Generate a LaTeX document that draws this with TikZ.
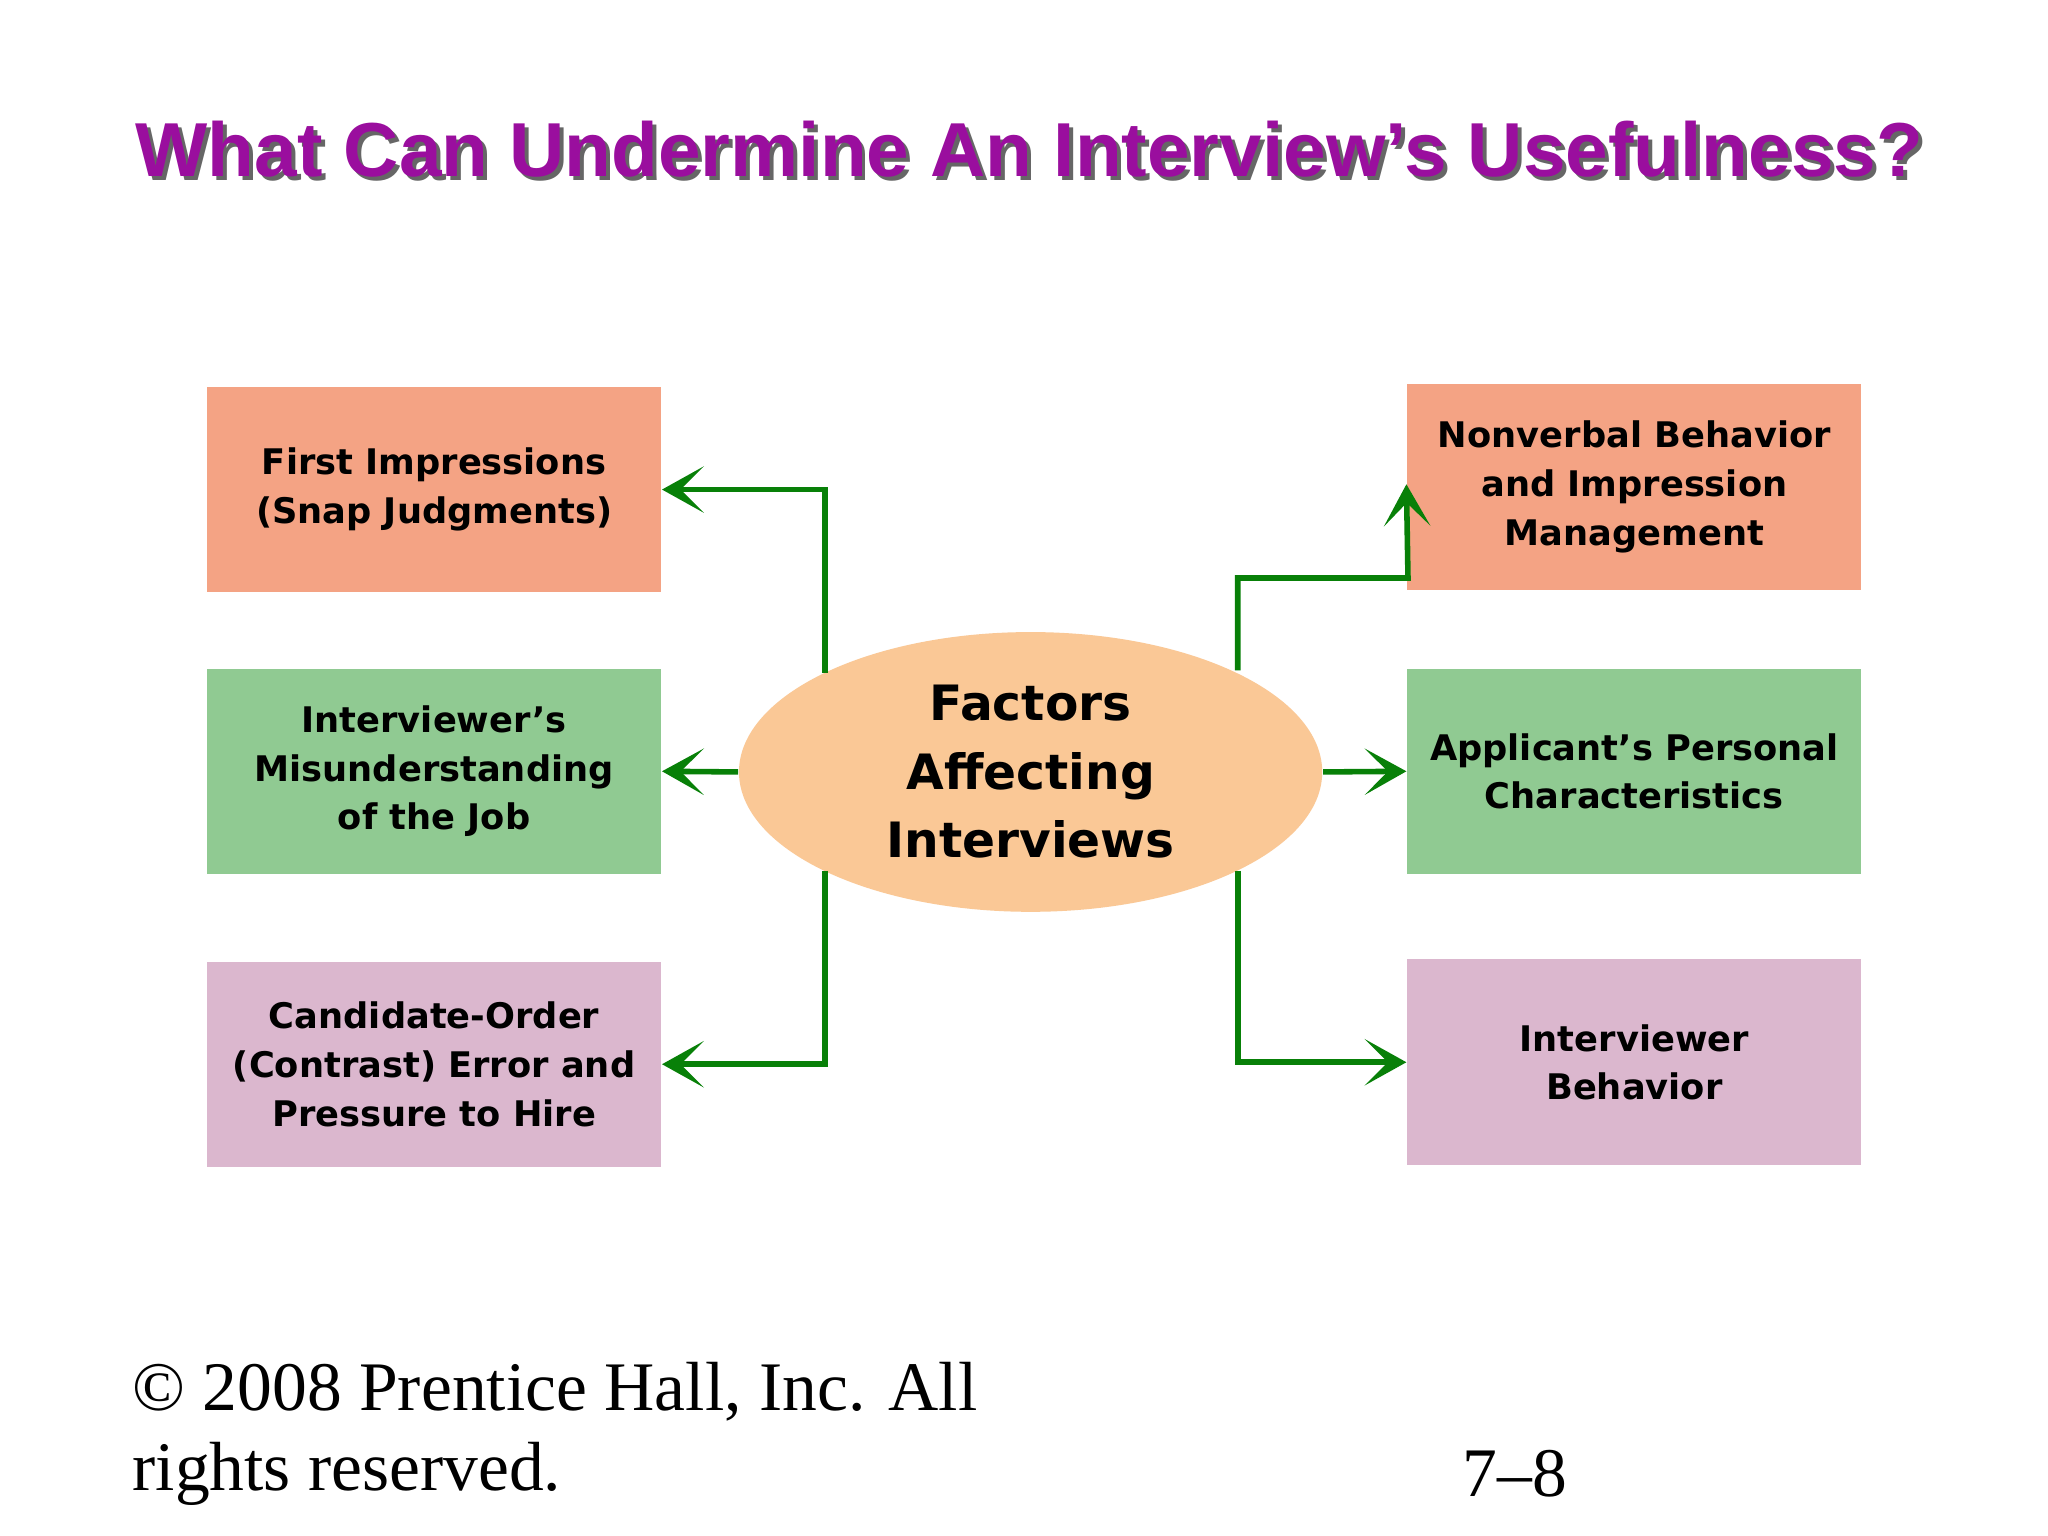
\documentclass[tikz,border=0pt]{standalone}
\usepackage{fontspec}
\setmainfont{Liberation Serif}
\newfontfamily\dvs{DejaVu Sans}
\newfontfamily\lsans{Liberation Sans}
\usetikzlibrary{arrows.meta,shapes.geometric,calc}
\definecolor{salmon}{HTML}{F4A384}
\definecolor{lgreen}{HTML}{90CA92}
\definecolor{lpink}{HTML}{DBB7CE}
\definecolor{peach}{HTML}{FAC896}
\definecolor{arrg}{HTML}{088008}
\definecolor{ttl}{HTML}{9A0E9E}
\begin{document}
\begin{tikzpicture}[x=1cm,y=-1cm,
 box/.style={rectangle,minimum width=3.44cm,minimum height=1.56cm,align=center,inner sep=0pt,
   font=\dvs\bfseries\fontsize{7.6}{10.5}\selectfont},
 conn/.style={draw=arrg,line width=1.2pt,-{Stealth[length=9pt,width=10pt,inset=5pt]}}]
\useasboundingbox (0,0) rectangle (15.52,11.64);
\fill[white] (0,0) rectangle (15.52,11.64);
% title
\node[text=black!60,font=\lsans\bfseries\fontsize{16.5}{18}\selectfont] at (7.83,1.16) {What Can Undermine An Interview’s Usefulness?};
\node[text=ttl,font=\lsans\bfseries\fontsize{16.5}{18}\selectfont] (title) at (7.80,1.13) {What Can Undermine An Interview’s Usefulness?};
% boxes
\node[box,fill=salmon] (l1) at (3.29,3.71) {First Impressions\\(Snap Judgments)};
\node[box,fill=lgreen,minimum height=1.55cm] (l2) at (3.29,5.845) {Interviewer’s\\Misunderstanding\\of the Job};
\node[box,fill=lpink,minimum height=1.55cm] (l3) at (3.29,8.065) {Candidate-Order\\(Contrast) Error and\\Pressure to Hire};
\node[box,fill=salmon] (r1) at (12.385,3.69) {Nonverbal Behavior\\and Impression\\Management};
\node[box,fill=lgreen,minimum height=1.55cm] (r2) at (12.385,5.845) {Applicant’s Personal\\Characteristics};
\node[box,fill=lpink] (r3) at (12.385,8.05) {Interviewer\\Behavior};
% ellipse
\node[ellipse,fill=peach,minimum width=4.42cm,minimum height=2.12cm,align=center,inner sep=0pt,
  font=\dvs\bfseries\fontsize{10.5}{14.8}\selectfont] (c) at (7.81,5.85) {Factors\\Affecting\\Interviews};
% connectors
\coordinate (a1) at (6.25,5.10);
\coordinate (a3) at (6.25,6.60);
\coordinate (b1) at (9.38,5.08);
\coordinate (b3) at (9.38,6.60);
\draw[conn] (a1) |- (l1.east);
\draw[conn] (c.west) -- (l2.east);
\draw[conn] (a3) |- (l3.east);
\draw[conn] (b1) |- (10.67,4.38) -- ($(r1.west)+(0,-0.02)$);
\draw[conn] (c.east) -- (r2.west);
\draw[conn] (b3) |- (r3.west);
% footer
\node[anchor=west,font=\fontsize{15}{17}\selectfont] (f1) at (0.88,10.55) {© 2008 Prentice Hall, Inc. All};
\node[anchor=west,font=\fontsize{15}{17}\selectfont] (f2) at (0.88,11.17) {rights reserved.};
\node[anchor=west,font=\fontsize{15}{17}\selectfont] (pg) at (10.96,11.17) {7–8};
\end{tikzpicture}
\end{document}
